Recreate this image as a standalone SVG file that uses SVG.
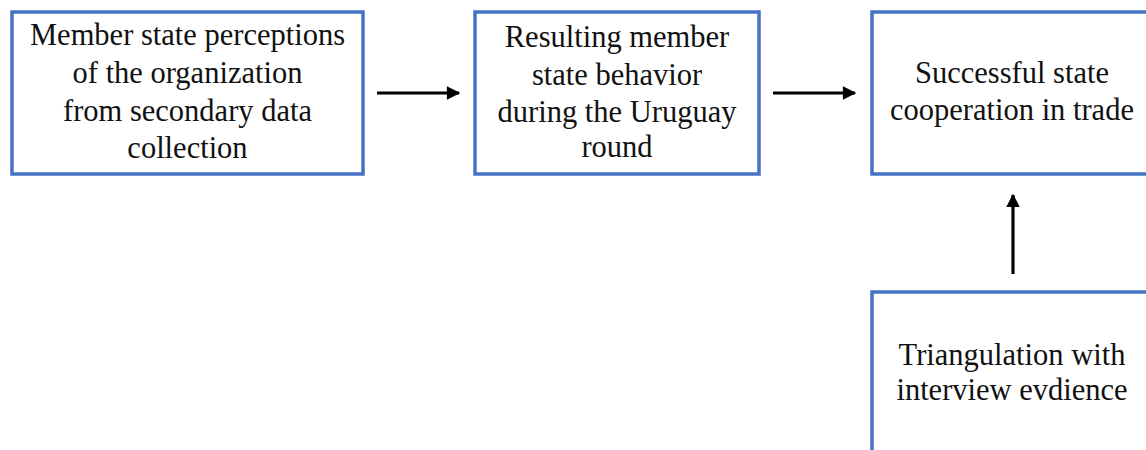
<svg xmlns="http://www.w3.org/2000/svg" width="1146" height="450" viewBox="0 0 1146 450">
<style>
.box{fill:#fff;stroke:#4472C4;stroke-width:3.5}
.t{font-family:"Liberation Serif","Times New Roman",serif;font-size:30.5px;fill:#111;text-anchor:middle}
.c{stroke:#000;stroke-width:3.2;fill:none}
</style>
<defs>
<marker id="ah" viewBox="0 0 10 10" refX="9" refY="5" markerWidth="4.5" markerHeight="4.2" orient="auto" markerUnits="strokeWidth">
<path d="M0,0 L10,5 L0,10 z" fill="#000"/>
</marker>
</defs>
<rect width="1146" height="450" fill="#fff"/>
<g id="n1">
<rect class="box" x="12" y="12" width="351" height="162"/>
<text class="t" x="187.5" y="45">Member state perceptions</text>
<text class="t" x="187.5" y="83">of the organization</text>
<text class="t" x="187.5" y="121">from secondary data</text>
<text class="t" x="187.5" y="158">collection</text>
</g>
<g id="n2">
<rect class="box" x="475" y="12" width="284" height="162"/>
<text class="t" x="617" y="47">Resulting member</text>
<text class="t" x="617" y="85">state behavior</text>
<text class="t" x="617" y="122">during the Uruguay</text>
<text class="t" x="617" y="157">round</text>
</g>
<g id="n3">
<rect class="box" x="872" y="12" width="284" height="162"/>
<text class="t" x="1012" y="83">Successful state</text>
<text class="t" x="1012" y="120">cooperation in trade</text>
</g>
<g id="n4">
<rect class="box" x="872" y="292" width="284" height="180"/>
<text class="t" x="1012" y="365">Triangulation with</text>
<text class="t" x="1012" y="400">interview evdience</text>
</g>
<g id="connectors">
<line class="c" x1="377" y1="93" x2="459" y2="93" marker-end="url(#ah)"/>
<line class="c" x1="773" y1="93" x2="855" y2="93" marker-end="url(#ah)"/>
<line class="c" x1="1013" y1="274" x2="1013" y2="195" marker-end="url(#ah)"/>
</g>
</svg>
